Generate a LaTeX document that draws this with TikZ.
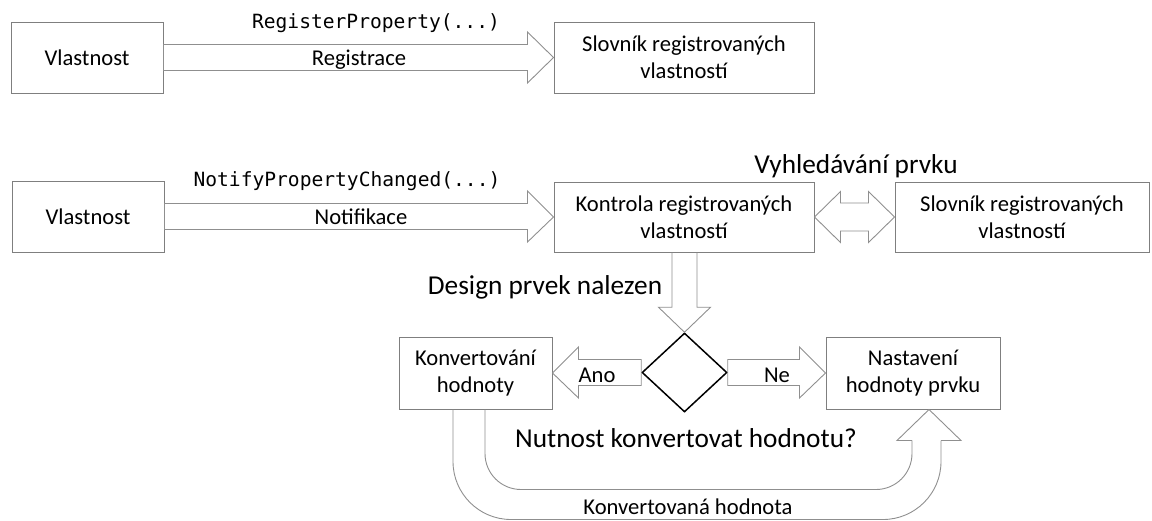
\documentclass[tikz,border=0pt]{standalone}
\usepackage{fontspec}
\setmainfont{Carlito}
\setmonofont{DejaVu Sans Mono}
\usetikzlibrary{shapes.geometric, calc}
\definecolor{boxgray}{HTML}{7F7F7F}
\definecolor{arrowgray}{HTML}{8F8F8F}
\tikzset{
  box/.style={draw=boxgray, line width=1pt, align=center, inner sep=0pt,
    font=\fontsize{22.6}{27}\selectfont},
  decision/.style={diamond, draw=black, line width=1.5pt, inner sep=0pt,
    minimum width=85pt, minimum height=79pt},
  blockarrow/.style={draw=arrowgray, line width=0.9pt, line join=miter},
  lbl/.style={font=\fontsize{22.6}{27}\selectfont, inner sep=0pt, anchor=base},
  biglbl/.style={font=\fontsize{27.3}{32}\selectfont, inner sep=0pt, anchor=base},
  codelbl/.style={font=\fontsize{19.6}{23}\ttfamily, inner sep=0pt, anchor=base},
}
% horizontal block arrow: #1 tail, #2 tip
\newcommand{\harrow}[2]{%
  \draw[blockarrow] let \p1=(#1), \p2=(#2), \n1={ifthenelse(\x2>\x1,1,-1)} in
    (\x1,{\y1+13pt}) -- ({\x2-(\n1)*26pt},{\y1+13pt}) -- ({\x2-(\n1)*26pt},{\y1+25.5pt})
    -- (\x2,\y2) -- ({\x2-(\n1)*26pt},{\y1-25.5pt}) -- ({\x2-(\n1)*26pt},{\y1-13pt})
    -- (\x1,{\y1-13pt}) -- cycle;}

\begin{document}
\begin{tikzpicture}[x=1pt, y=-1pt]
  \useasboundingbox (0,0) rectangle (1152,520);

  % registration
  \node[box, minimum width=152pt, minimum height=71pt] (prop1) at (87,57.5) {Vlastnost};
  \node[box, minimum width=260pt, minimum height=71pt] (dict1) at (684,57.5)
    {Slovník registrovaných\\vlastností};
  \harrow{prop1.east}{dict1.west}
  \node[codelbl] (regcall) at (376,28) {RegisterProperty(...)};
  \node[lbl] (reg) at (359,65) {Registrace};

  % notification
  \node[box, minimum width=152pt, minimum height=71pt] (prop2) at (88,216.5) {Vlastnost};
  \node[box, minimum width=260pt, minimum height=70pt] (check) at (684,217)
    {Kontrola registrovaných\\vlastností};
  \node[box, minimum width=254pt, minimum height=70pt] (dict2) at (1022,217)
    {Slovník registrovaných\\vlastností};
  \harrow{prop2.east}{check.west}
  \node[codelbl] (notcall) at (347,186) {NotifyPropertyChanged(...)};
  \node[lbl] (notif) at (361,224) {Notifikace};

  % lookup
  \draw[blockarrow] let \p1=(check.east), \p2=(dict2.west) in
    (\x1,\y1) -- ({\x1+26pt},{\y1+25.5pt}) -- ({\x1+26pt},{\y1+14pt})
    -- ({\x2-26pt},{\y1+14pt}) -- ({\x2-26pt},{\y1+25.5pt}) -- (\x2,\y2)
    -- ({\x2-26pt},{\y1-25.5pt}) -- ({\x2-26pt},{\y1-14pt})
    -- ({\x1+26pt},{\y1-14pt}) -- ({\x1+26pt},{\y1-25.5pt}) -- cycle;
  \node[biglbl] (search) at (856,173) {Vyhledávání prvku};

  % decision
  \node[decision] (dec) at (684.5,372.5) {};
  \draw[blockarrow] let \p1=(check.south), \p2=(dec.north) in
    ({\x2-12.5pt},\y1) -- ({\x2-12.5pt},{\y2+25pt}) -- ({\x2-26pt},{\y2+25pt})
    -- (\x2,\y2) -- ({\x2+26pt},{\y2+25pt}) -- ({\x2+12.5pt},{\y2+25pt})
    -- ({\x2+12.5pt},\y1);
  \node[biglbl] (found) at (545,294) {Design prvek nalezen};

  \node[box, minimum width=153pt, minimum height=72pt] (conv) at (475.5,373)
    {Konvertování\\hodnoty};
  \node[box, minimum width=174pt, minimum height=72pt] (setval) at (913,373)
    {Nastavení\\hodnoty prvku};
  \harrow{dec.west}{conv.east}
  \harrow{dec.east}{setval.west}
  \node[lbl] (yes) at (597,382) {Ano};
  \node[lbl] (no) at (777,382) {Ne};
  \node[biglbl] (question) at (686,447) {Nutnost konvertovat hodnotu?};

  % converted value
  \draw[blockarrow, rounded corners=58pt] ($(conv.south)+(-22.5,0)$)
    -- ($(conv.south)+(-22.5,110)$) -- ($(setval.south)+(28,110)$)
    -- ($(setval.south)+(28,31)$);
  \draw[blockarrow, rounded corners=36pt] ($(conv.south)+(9.5,0)$)
    -- ($(conv.south)+(9.5,80)$) -- ($(setval.south)+(-1,80)$)
    -- ($(setval.south)+(-1,31)$);
  \draw[blockarrow] ($(setval.south)+(-1,31)$) -- ($(setval.south)+(-16,31)$)
    -- ($(setval.south)+(16,0)$) -- ($(setval.south)+(48,31)$)
    -- ($(setval.south)+(28,31)$);
  \node[lbl] (converted) at (688,514) {Konvertovaná hodnota};
\end{tikzpicture}
\end{document}
